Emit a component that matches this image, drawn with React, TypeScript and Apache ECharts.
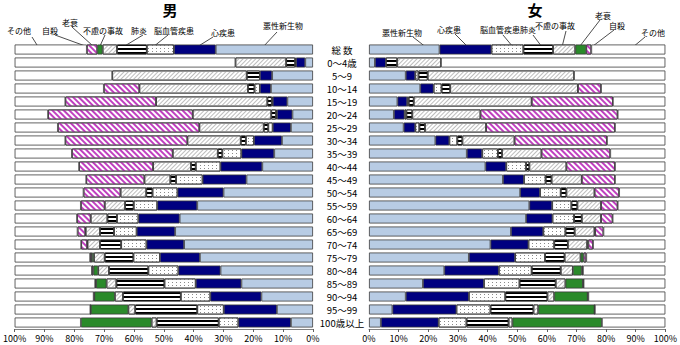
import React, { useEffect, useRef } from 'react';
import * as echarts from 'echarts';

const categories = ['総 数', '0～4歳', '5～9', '10～14', '15～19', '20～24', '25～29', '30～34', '35～39', '40～44', '45～49', '50～54', '55～59', '60～64', '65～69', '70～74', '75～79', '80～84', '85～89', '90～94', '95～99', '100歳以上'];
const causes = ['悪性新生物', '心疾患', '脳血管疾患', '肺炎', '不慮の事故', '老衰', '自殺', 'その他'];
const xTickValues = [0, 10, 20, 30, 40, 50, 60, 70, 80, 90, 100];

// Male (%)
const maleCancer = [32.6, 2.6, 13.7, 14.1, 8.6, 6.9, 7.4, 10.4, 13.0, 17.0, 22.3, 30.0, 38.8, 44.7, 46.2, 43.2, 37.9, 31.0, 24.0, 17.3, 12.1, 7.4];
const maleHeart = [14.0, 3.1, 4.1, 3.7, 4.9, 5.2, 6.1, 9.4, 11.0, 14.0, 14.7, 15.4, 13.4, 13.8, 12.9, 12.6, 13.4, 14.1, 15.3, 17.1, 17.8, 17.6];
const maleStroke = [9.1, 0.3, 0, 1.8, 0.3, 0.3, 1.5, 2.7, 6.4, 8.3, 8.9, 8.4, 7.9, 7.2, 7.6, 8.5, 8.9, 10.1, 10.5, 9.9, 8.9, 6.6];
const malePneumonia = [10.0, 3.0, 4.4, 2.2, 1.5, 1.6, 1.5, 1.7, 1.5, 1.6, 1.9, 2.1, 2.9, 3.2, 4.7, 7.1, 9.6, 13.2, 16.1, 19.4, 20.8, 20.8];
const maleAccident = [4.8, 17.0, 45.1, 36.4, 37.3, 26.3, 21.6, 17.9, 15.1, 12.7, 8.7, 8.6, 6.8, 5.6, 4.8, 4.2, 3.6, 3.6, 3.3, 2.7, 2.3, 1.7];
const maleSenility = [1.8, 0, 0, 0, 0, 0, 0, 0, 0, 0, 0, 0, 0, 0, 0.1, 0.1, 0.7, 1.6, 3.5, 6.9, 12.6, 23.7];
const maleSuicide = [3.5, 0, 0, 11.9, 30.4, 48.5, 47.4, 40.9, 33.8, 24.8, 19.5, 12.4, 8.0, 4.6, 2.6, 2.0, 0.6, 0.5, 0.3, 0.2, 0.1, 0];
const maleOther = [24.2, 74.0, 32.7, 29.9, 17.0, 11.2, 14.5, 17.0, 19.2, 21.6, 24.0, 23.1, 22.2, 20.9, 21.1, 22.3, 25.3, 25.9, 27.0, 26.5, 25.4, 22.2];

// Female (%)
const femaleCancer = [23.8, 2.0, 12.4, 17.3, 9.6, 8.4, 11.7, 22.4, 33.0, 39.3, 45.2, 51.0, 54.1, 53.0, 47.9, 41.0, 33.7, 25.4, 18.2, 12.4, 7.9, 4.0];
const femaleHeart = [17.5, 3.7, 3.2, 4.5, 3.3, 3.6, 3.9, 4.7, 5.2, 7.0, 7.1, 6.7, 7.7, 8.9, 10.9, 12.8, 15.6, 18.4, 20.6, 21.3, 21.6, 19.5];
const femaleStroke = [10.8, 0, 1.1, 2.7, 0.5, 0.6, 1.4, 2.7, 5.3, 6.7, 7.3, 7.0, 6.5, 7.3, 7.5, 8.7, 10.1, 11.1, 12.0, 12.3, 11.5, 9.4];
const femalePneumonia = [10.0, 3.8, 3.1, 2.9, 1.7, 2.0, 1.9, 1.7, 1.4, 1.1, 2.0, 1.9, 2.0, 2.6, 3.1, 4.6, 6.6, 9.8, 12.2, 14.2, 14.5, 14.2];
const femaleAccident = [7.5, 14.8, 49.4, 43.1, 39.8, 23.0, 20.6, 17.6, 13.3, 12.5, 10.2, 9.5, 8.0, 6.5, 6.7, 6.5, 5.4, 4.1, 3.3, 2.3, 1.6, 1.3];
const femaleSenility = [3.7, 0, 0, 0, 0, 0, 0, 0, 0, 0, 0, 0, 0, 0, 0.2, 0.4, 1.0, 3.0, 5.9, 11.3, 19.0, 30.2];
const femaleSuicide = [1.7, 0, 0, 7.8, 27.4, 46.3, 43.5, 31.2, 23.2, 16.4, 11.2, 8.3, 5.6, 3.9, 2.8, 1.6, 0.9, 0.4, 0.2, 0.2, 0.1, 0];
const femaleOther = [25.0, 75.7, 30.8, 21.7, 17.7, 16.1, 17.0, 19.7, 18.6, 17.0, 17.0, 15.6, 16.1, 17.8, 20.9, 24.4, 26.7, 27.8, 27.6, 26.0, 23.8, 21.4];

const maleSeries = [maleCancer, maleHeart, maleStroke, malePneumonia, maleAccident, maleSenility, maleSuicide, maleOther];
const femaleSeries = [femaleCancer, femaleHeart, femaleStroke, femalePneumonia, femaleAccident, femaleSenility, femaleSuicide, femaleOther];

const FONT = '"Noto Sans CJK JP", "Noto Sans", sans-serif';

const causeStyles: any[] = [
  { color: '#B8CCE4' },
  { color: '#000080' },
  { color: '#ffffff', decal: { symbol: 'rect', symbolSize: 1, color: '#8a8a8a', dashArrayX: [1, 3], dashArrayY: [1, 2] } },
  { color: '#ffffff', decal: { symbol: 'rect', symbolSize: 1, color: '#000000', dashArrayX: [1, 0], dashArrayY: [1.3, 1.7] } },
  { color: '#ffffff', decal: { symbol: 'rect', symbolSize: 1, color: '#bdbdbd', dashArrayX: [1, 0], dashArrayY: [1, 2], rotation: -Math.PI / 4 } },
  { color: '#2A8A2A' },
  { color: '#ffffff', decal: { symbol: 'rect', symbolSize: 1, color: '#C040C0', dashArrayX: [1, 0], dashArrayY: [1.5, 1.5], rotation: Math.PI / 4 } },
  { color: '#ffffff' },
];

// annotation label placements: [text, textX, textY, lineX1, lineY1, lineX2, lineY2]
const maleNotes: [string, number, number, number, number, number, number][] = [
  ['その他', 19, 30, 32, 37, 37, 45],
  ['自殺', 50, 30, 55, 35, 88, 47],
  ['老衰', 70, 22, 72, 27, 93, 46],
  ['不慮の事故', 103, 30, 105, 35, 100, 46],
  ['肺炎', 139, 30, 143, 35, 123, 47],
  ['脳血管疾患', 174, 30, 168, 35, 153, 47],
  ['心疾患', 223, 32, 213, 37, 197, 47],
  ['悪性新生物', 283, 25, 277, 32, 263, 47],
];
const femaleNotes: [string, number, number, number, number, number, number][] = [
  ['悪性新生物', 402, 32, 413, 37, 427, 48],
  ['心疾患', 449, 29, 455, 34, 468, 47],
  ['脳血管疾患', 500, 29, 503, 35, 513, 47],
  ['肺炎', 528, 29, 533, 35, 542, 47],
  ['不慮の事故', 555, 25, 566, 31, 562, 47],
  ['老衰', 603, 15, 600, 20, 580, 46],
  ['自殺', 617, 25, 614, 30, 593, 46],
  ['その他', 653, 32, 645, 37, 633, 47],
];

export default function App() {
  const ref = useRef<HTMLDivElement>(null);
  useEffect(() => {
    const chart = echarts.init(ref.current!, null, { renderer: 'svg' });
    const grids = [
      { left: 10, top: 43, width: 303, height: 286 },
      { left: 369, top: 43, width: 299, height: 286 },
    ];
    const xAxisBase = (gi: number, inverse: boolean) => ({
      type: 'value',
      gridIndex: gi,
      min: xTickValues[0],
      max: xTickValues[xTickValues.length - 1],
      interval: 10,
      inverse,
      splitLine: { show: false },
      axisLine: { show: true, lineStyle: { color: '#808080', width: 1 } },
      axisTick: { show: true, length: 3, lineStyle: { color: '#606060' } },
      axisLabel: { formatter: '{value}%', fontSize: 9, color: '#000', margin: 5, fontFamily: FONT },
    });
    const series: any[] = [];
    causes.forEach((name, i) => {
      const base = {
        type: 'bar',
        name,
        barWidth: 10,
        itemStyle: { ...causeStyles[i], borderColor: '#3c3c3c', borderWidth: 0.8 },
        emphasis: { disabled: true },
      };
      series.push({ ...base, xAxisIndex: 0, yAxisIndex: 0, stack: 'male', data: maleSeries[i].map((v) => (v === 0 ? '-' : v)) });
      series.push({ ...base, xAxisIndex: 1, yAxisIndex: 1, stack: 'female', data: femaleSeries[i].map((v) => (v === 0 ? '-' : v)) });
    });
    const graphics: any[] = [
      { type: 'text', x: 170, y: 9, style: { text: '男', font: `bold 15px ${FONT}`, fill: '#000', textAlign: 'center', textVerticalAlign: 'middle' } },
      { type: 'text', x: 535, y: 9, style: { text: '女', font: `bold 15px ${FONT}`, fill: '#000', textAlign: 'center', textVerticalAlign: 'middle' } },
    ];
    [...maleNotes, ...femaleNotes].forEach(([t, tx, ty, x1, y1, x2, y2]) => {
      graphics.push({ type: 'text', x: tx, y: ty, style: { text: t, font: `8px ${FONT}`, fill: '#000', textAlign: 'center', textVerticalAlign: 'middle' } });
      graphics.push({ type: 'line', shape: { x1, y1, x2, y2 }, style: { stroke: '#000', lineWidth: 0.7 } });
    });
    chart.setOption({
      animation: false,
      backgroundColor: '#ffffff',
      grid: grids,
      xAxis: [xAxisBase(0, true), xAxisBase(1, false)],
      yAxis: [
        {
          type: 'category', gridIndex: 0, data: categories, inverse: true, position: 'right',
          axisLine: { show: false }, axisTick: { show: false }, axisLabel: { show: false },
        },
        {
          type: 'category', gridIndex: 1, data: categories, inverse: true,
          axisLine: { show: false }, axisTick: { show: false },
          axisLabel: { show: true, align: 'center', margin: 27, fontSize: 9.5, color: '#000', fontFamily: FONT, interval: 0, lineHeight: 11 },
        },
      ],
      series,
      graphic: graphics,
    });
    return () => chart.dispose();
  }, []);
  return <div ref={ref} style={{ position: 'absolute', left: 0, top: 0, width: 680, height: 345 }} />;
}
